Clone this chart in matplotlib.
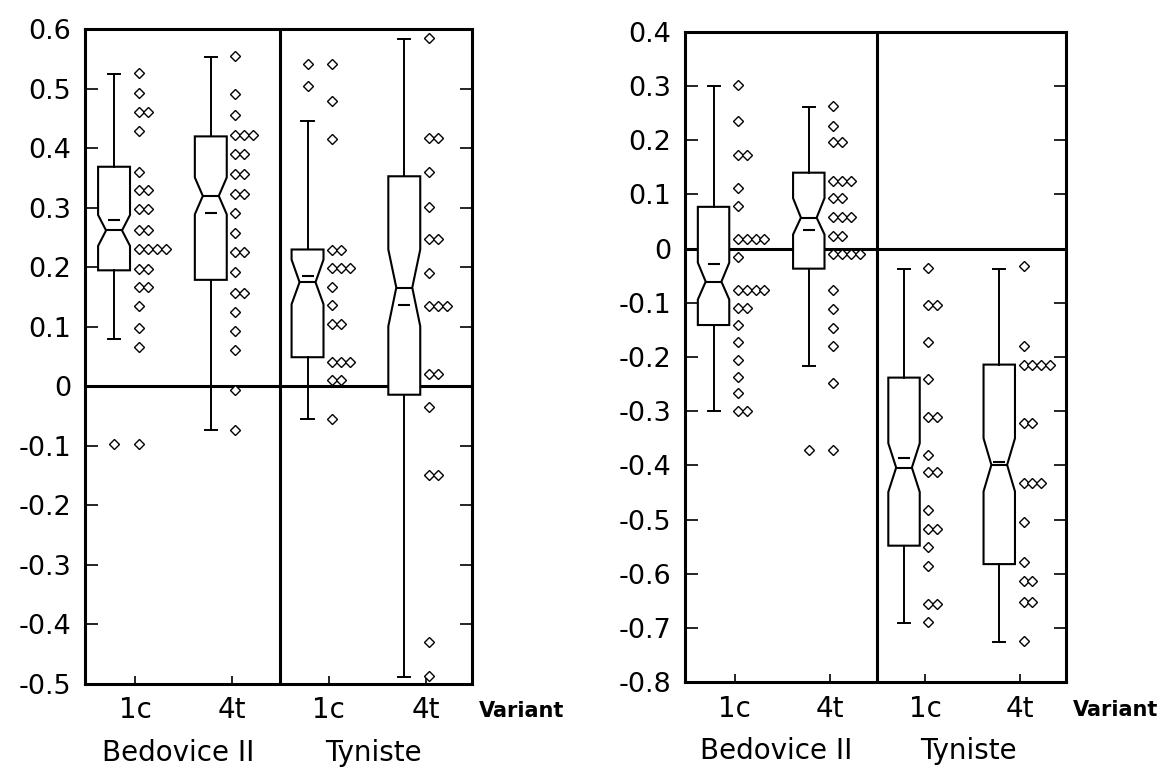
import numpy as np
import matplotlib
matplotlib.use('Agg')
import matplotlib.pyplot as plt
from matplotlib.ticker import FuncFormatter

plt.rcParams['font.family'] = ['DejaVu Sans']
plt.rcParams['axes.unicode_minus'] = False

variants = ['1c', '4t', '1c', '4t']
sites = ['Bedovice II', 'Tyniste']

# left panel: box statistics (Bedovice 1c, 4t, Tyniste 1c, 4t)
left_q1 = [0.195, 0.179, 0.049, -0.014]
left_med = [0.262, 0.320, 0.175, 0.166]
left_q3 = [0.369, 0.420, 0.230, 0.353]
left_cilo = [0.236, 0.289, 0.138, 0.101]
left_cihi = [0.288, 0.351, 0.213, 0.230]
left_mean = [0.280, 0.292, 0.186, 0.136]
left_whislo = [0.079, -0.074, -0.055, -0.488]
left_whishi = [0.524, 0.554, 0.446, 0.583]
left_fliers = [[-0.097], [], [0.542, 0.504], []]

# left panel: binned points (value, how many in the row)
left_vals = [
    [0.527, 0.493, 0.461, 0.429, 0.361, 0.330, 0.298, 0.263, 0.230, 0.198, 0.167, 0.135, 0.098, 0.066, -0.097],
    [0.555, 0.491, 0.456, 0.423, 0.391, 0.357, 0.324, 0.292, 0.257, 0.225, 0.192, 0.157, 0.125, 0.093, 0.061, -0.006, -0.073],
    [0.542, 0.479, 0.416, 0.229, 0.199, 0.167, 0.136, 0.105, 0.041, 0.011, -0.055],
    [0.586, 0.417, 0.360, 0.302, 0.247, 0.191, 0.135, 0.021, -0.035, -0.149, -0.430, -0.487],
]
left_cnt = [
    [1, 1, 2, 1, 1, 2, 2, 2, 4, 2, 2, 1, 1, 1, 1],
    [1, 1, 1, 3, 2, 2, 2, 1, 1, 2, 1, 2, 1, 1, 1, 1, 1],
    [1, 1, 1, 2, 3, 1, 1, 2, 3, 2, 1],
    [1, 2, 1, 1, 2, 1, 3, 2, 1, 2, 1, 1],
]

# right panel: box statistics
right_q1 = [-0.141, -0.037, -0.548, -0.582]
right_med = [-0.061, 0.057, -0.404, -0.399]
right_q3 = [0.077, 0.140, -0.238, -0.214]
right_cilo = [-0.094, 0.026, -0.449, -0.448]
right_cihi = [-0.026, 0.093, -0.359, -0.350]
right_mean = [-0.029, 0.034, -0.387, -0.393]
right_whislo = [-0.300, -0.217, -0.691, -0.726]
right_whishi = [0.299, 0.261, -0.037, -0.037]
right_fliers = [[], [-0.372], [], []]

right_vals = [
    [0.301, 0.236, 0.173, 0.111, 0.079, 0.017, -0.015, -0.076, -0.109, -0.141, -0.172, -0.205, -0.236, -0.266, -0.299],
    [0.263, 0.227, 0.196, 0.125, 0.093, 0.059, 0.023, -0.010, -0.077, -0.112, -0.146, -0.180, -0.248, -0.372],
    [-0.035, -0.104, -0.172, -0.241, -0.311, -0.381, -0.413, -0.482, -0.518, -0.551, -0.586, -0.656, -0.689],
    [-0.033, -0.180, -0.214, -0.322, -0.433, -0.505, -0.578, -0.613, -0.651, -0.723],
]
right_cnt = [
    [1, 1, 2, 1, 1, 4, 1, 4, 2, 1, 1, 1, 1, 1, 2],
    [1, 1, 2, 3, 2, 3, 2, 4, 1, 1, 1, 1, 1, 1],
    [1, 2, 1, 1, 2, 1, 2, 1, 2, 1, 1, 2, 1],
    [1, 1, 4, 2, 3, 1, 1, 2, 2, 1],
]


def fmt(v, p):
    if abs(v) < 1e-9:
        return '0'
    return ('%.1f' % v)


def draw_panel(ax, q1, med, q3, cilo, cihi, mean, whislo, whishi, fliers,
               vals, cnts, ylim):
    pos = np.arange(1, 5)
    stats = []
    for i in range(4):
        stats.append(dict(q1=q1[i], med=med[i], q3=q3[i], cilo=cilo[i],
                          cihi=cihi[i], mean=mean[i], whislo=whislo[i],
                          whishi=whishi[i], fliers=fliers[i]))

    ax.axhline(0, color='black', lw=2.2, zorder=1)
    ax.axvline(2.5, color='black', lw=2.2, zorder=1)

    ax.bxp(stats, positions=pos - 0.22, widths=0.33, capwidths=0.125,
           shownotches=True, showmeans=True, patch_artist=True,
           manage_ticks=False, zorder=2,
           boxprops=dict(facecolor='white', edgecolor='black', linewidth=1.5),
           medianprops=dict(color='black', linewidth=1.5),
           whiskerprops=dict(color='black', linewidth=1.4),
           capprops=dict(color='black', linewidth=1.4),
           meanprops=dict(marker='_', markeredgecolor='black',
                          markersize=9, markeredgewidth=1.5),
           flierprops=dict(marker='D', markerfacecolor='white',
                           markeredgecolor='black', markersize=5,
                           markeredgewidth=1.0))

    # dot columns, ties spread to the right
    for i in range(4):
        xs, ys = [], []
        for v, n in zip(vals[i], cnts[i]):
            xs.extend(pos[i] + 0.035 + 0.093 * np.arange(n))
            ys.extend([v] * n)
        ax.plot(xs, ys, linestyle='none', marker='D', markersize=5,
                markerfacecolor='white', markeredgecolor='black',
                markeredgewidth=1.0, zorder=3)

    ax.set_xlim(0.48, 4.48)
    ax.set_ylim(*ylim)
    ax.set_yticks(np.round(np.arange(ylim[0], ylim[1] + 0.001, 0.1), 1))
    ax.yaxis.set_major_formatter(FuncFormatter(fmt))
    ax.set_xticks(pos)
    ax.set_xticklabels(variants)

    ax.tick_params(axis='y', direction='in', left=True, right=True,
                   length=9, width=1.2, labelsize=19.5, pad=10)
    ax.tick_params(axis='x', direction='in', top=False, length=6,
                   width=1.2, labelsize=20, pad=9)
    for s in ax.spines.values():
        s.set_linewidth(2.2)

    ax.text(1.44, -0.105, sites[0], transform=ax.get_xaxis_transform(),
            ha='center', va='center', fontsize=20)
    ax.text(3.46, -0.105, sites[1], transform=ax.get_xaxis_transform(),
            ha='center', va='center', fontsize=20)
    ax.text(1.018, -0.042, 'Variant', transform=ax.transAxes,
            ha='left', va='center', fontsize=15, fontweight='bold')


fig = plt.figure(figsize=(11.6, 7.7), dpi=100)
ax1 = fig.add_axes([0.0733, 0.1117, 0.3336, 0.8503])
ax2 = fig.add_axes([0.5905, 0.1139, 0.3284, 0.8449])

draw_panel(ax1, left_q1, left_med, left_q3, left_cilo, left_cihi, left_mean,
           left_whislo, left_whishi, left_fliers, left_vals, left_cnt,
           (-0.5, 0.6))
draw_panel(ax2, right_q1, right_med, right_q3, right_cilo, right_cihi,
           right_mean, right_whislo, right_whishi, right_fliers,
           right_vals, right_cnt, (-0.8, 0.4))

fig.savefig('out.png', dpi=100)
